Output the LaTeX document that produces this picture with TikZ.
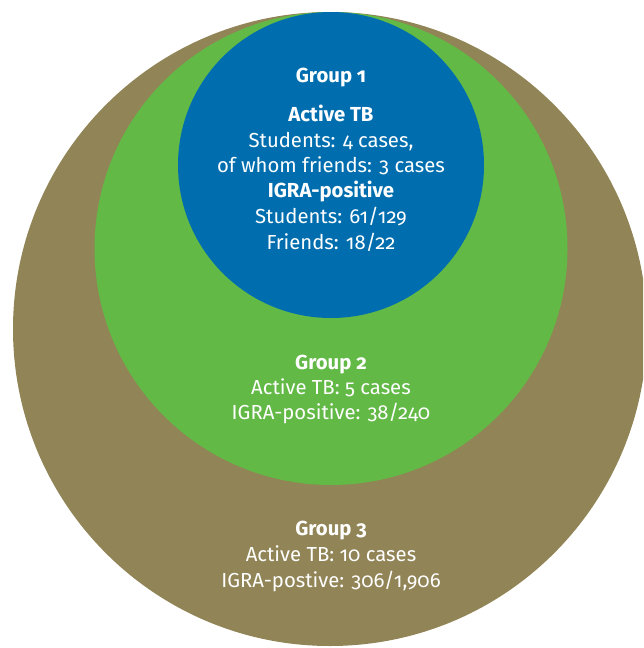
\documentclass[tikz,border=0pt]{standalone}
\usepackage{fontspec}
\setmainfont[Numbers=OldStyle]{Fira Sans}
\definecolor{gthree}{HTML}{918456}
\definecolor{gtwo}{HTML}{62B946}
\definecolor{gone}{HTML}{006EAE}
\tikzset{
  txt/.style={text=white, font=\fontsize{20.3}{24}\selectfont, anchor=base, inner sep=0pt},
  hd/.style={txt, font=\fontsize{20.3}{24}\selectfont\bfseries}
}
\begin{document}
\begin{tikzpicture}[x=1pt,y=-1pt]
\useasboundingbox (0,0) rectangle (643,648);
\begin{scope}
\clip (0,0) rectangle (643,648);
\fill[gthree] (330,329) circle (317);
\fill[gtwo] (331,248.5) circle (236.5);
\fill[gone] (331,165) circle (153);
\end{scope}
% Group 1
\node[hd]  (g1)  at (331,82)  {Group 1};
\node[hd]  (a1)  at (331,121) {Active TB};
\node[txt] (s1)  at (331,147) {Students: 4 cases,};
\node[txt] (f1)  at (331,172) {of whom friends: 3 cases};
\node[hd]  (i1)  at (331,197) {IGRA-positive};
\node[txt] (s1b) at (331,223) {Students: 61/129};
\node[txt] (f1b) at (331,249) {Friends: 18/22};
% Group 2
\node[hd]  (g2) at (331,369) {Group 2};
\node[txt] (a2) at (331,394) {Active TB: 5 cases};
\node[txt] (i2) at (331,419) {IGRA-positive: 38/240};
% Group 3
\node[hd]  (g3) at (331,535) {Group 3};
\node[txt] (a3) at (331,561) {Active TB: 10 cases};
\node[txt] (i3) at (331,587) {IGRA-postive: 306/1,906};
\end{tikzpicture}
\end{document}
